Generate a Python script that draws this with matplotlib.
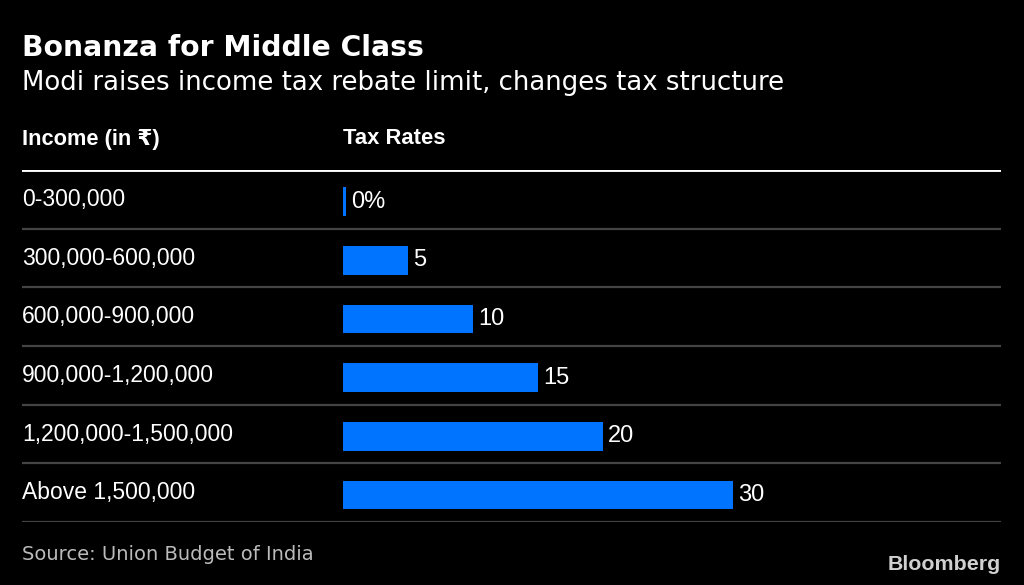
import matplotlib.pyplot as plt
import numpy as np

# data
incomes = ["0-300,000", "300,000-600,000", "600,000-900,000",
           "900,000-1,200,000", "1,200,000-1,500,000", "Above 1,500,000"]
rates = [0, 5, 10, 15, 20, 30]
rate_labels = ["0%", "5", "10", "15", "20", "30"]

BG = "#000000"
BLUE = "#0073ff"
GRID = "#444444"
W, H = 1024, 585
SANS = ["Liberation Sans", "DejaVu Sans"]

fig = plt.figure(figsize=(W / 100, H / 100), dpi=100, facecolor=BG)

# axes spans the table area: x 22..1001 px, y 170..522 px (from top)
left, right, top, bottom = 22, 1001, 170, 522
ax = fig.add_axes([left / W, 1 - bottom / H, (right - left) / W, (bottom - top) / H])
ax.set_facecolor(BG)
px_per_unit = 13.0
bar_x0 = 343
ax.set_xlim(-(bar_x0 - left) / px_per_unit, (right - bar_x0) / px_per_unit)
ax.set_ylim(len(rates) - 0.5, -0.5)
ax.axis("off")

y = np.arange(len(rates))
widths = np.maximum(np.array(rates, dtype=float), 0.22)
ax.barh(y + 0.04, widths, height=0.49, color=BLUE, left=0)

for i, (w, lab) in enumerate(zip(widths, rate_labels)):
    ax.text(w + 0.4, y[i] + 0.04, lab, color="white", fontsize=17,
            family=SANS, va="center", ha="left")

# row labels
trans = ax.get_yaxis_transform()
for i, lab in enumerate(incomes):
    ax.text(0, y[i], lab, transform=trans, color="white", fontsize=16.5,
            family=SANS, va="center", ha="left")

# separators
for yy in y + 0.5:
    ax.axhline(yy, color=GRID, lw=1.6, xmin=0, xmax=1)
ax.axhline(-0.5, color="white", lw=2.8, xmin=0, xmax=1)

# headings
fig.text(left / W, 1 - 48 / H, "Bonanza for Middle Class", color="white",
         fontsize=20.3, fontweight="bold", family="DejaVu Sans", va="center")
fig.text(left / W, 1 - 83 / H, "Modi raises income tax rebate limit, changes tax structure",
         color="white", fontsize=18.7, family="DejaVu Sans", va="center")
fig.text(left / W, 1 - 139 / H, "Income (in \u20b9)", color="white", fontsize=15.7,
         fontweight="bold", family=SANS, va="center")
fig.text(343 / W, 1 - 139 / H, "Tax Rates", color="white", fontsize=15.8,
         fontweight="bold", family=SANS, va="center")

fig.text(left / W, 1 - 555 / H, "Source: Union Budget of India", color="#bbbbbb",
         fontsize=14, family="DejaVu Sans", va="center")
fig.text(right / W, 1 - 565 / H, "Bloomberg", color="#d0d0d0", fontsize=15.4,
         fontweight="bold", family=SANS, va="center", ha="right")

fig.savefig("out.png", dpi=100, facecolor=BG)
